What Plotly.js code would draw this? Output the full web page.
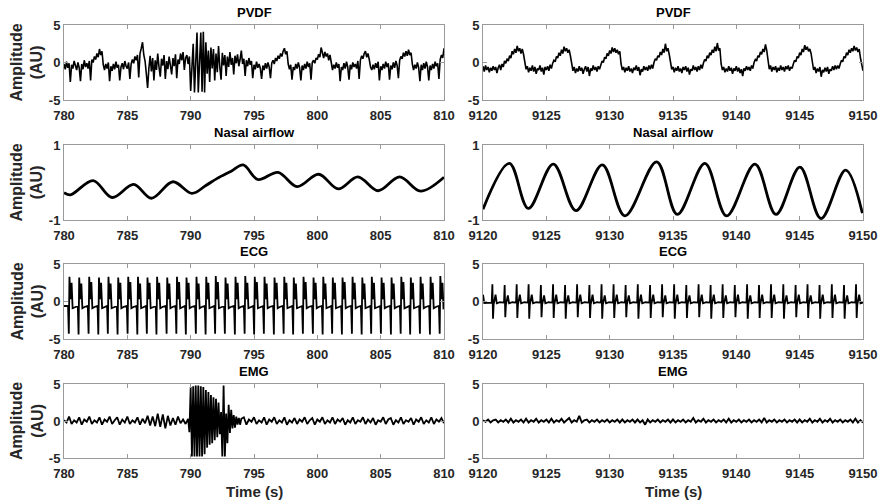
<!DOCTYPE html>
<html>
<head>
<meta charset="utf-8">
<script src="https://cdn.plot.ly/plotly-3.0.1.min.js"></script>
<style>html,body{margin:0;padding:0;background:#fff;}#chart{width:878px;height:501px;}</style>
</head>
<body>
<div id="chart"></div>
<script>
// ---------------- DATA ----------------
const panelTitles = ["PVDF", "Nasal airflow", "ECG", "EMG"];
const leftTicks = [780, 785, 790, 795, 800, 805, 810];
const rightTicks = [9120, 9125, 9130, 9135, 9140, 9145, 9150];

// PVDF (sampled every 0.1 s)
const pvdfLeftStart = 780, pvdfLeftStep = 0.1;
const pvdfLeft = [
 -0.2,-0.9,0.1,-0.7,-0.1,-2.6,-0.3,-0.8,0.2,-0.6,
 -1.0,0.0,-0.7,-2.5,-0.2,-0.9,0.3,-0.6,-0.1,-0.8,
 0.2,-2.4,0.4,0.0,0.8,0.4,1.2,0.7,1.8,1.0,
 1.5,-0.3,-1.0,-0.2,-0.8,0.0,-2.5,-0.5,-1.1,-0.2,
 -0.9,0.1,-0.7,-0.3,-2.4,-0.6,-0.1,-0.9,0.2,-0.5,
 -0.8,0.0,-2.2,-0.2,0.4,-0.1,0.8,0.3,1.0,-2.0,
 1.2,1.9,2.7,1.0,0.2,-1.5,-3.4,-0.8,0.9,-1.2,
 0.6,-2.4,0.3,-1.0,1.2,-0.6,-1.9,0.5,-0.4,1.0,
 -2.2,0.2,-0.9,0.8,-0.3,-1.6,0.6,-0.5,1.1,-2.1,
 0.4,-0.2,1.2,0.3,1.4,-1.0,0.6,1.0,-0.2,0.8,
 -3.8,-1.0,2.5,-4.0,1.0,4.0,-4.0,-0.5,4.0,-3.9,
 4.1,-4.0,2.7,-1.5,1.6,-2.6,2.0,-0.8,1.8,-2.4,
 1.2,-1.3,2.2,-0.6,-2.3,1.3,-0.4,1.0,-1.8,0.8,
 -0.6,1.4,-0.3,0.6,-1.6,0.9,-0.1,1.1,-0.5,0.4,
 1.6,-0.2,0.5,-1.8,0.3,-0.5,0.6,-0.3,0.2,-2.1,
 -0.3,-0.9,0.1,-0.7,-0.2,-0.8,-2.2,-0.4,-1.0,-0.1,
 -0.8,0.0,-0.6,-2.1,-0.1,0.3,-0.2,0.6,0.2,0.9,
 0.5,1.2,0.8,1.5,1.9,1.1,1.5,-0.2,-0.9,-0.3,
 -2.3,-0.6,-1.0,-0.2,-0.8,0.0,-0.7,-2.4,-0.4,-1.0,
 -0.2,-0.8,0.1,-0.6,-0.1,-2.3,0.0,0.3,-0.1,0.6,
 0.4,1.1,0.7,2.0,1.2,0.6,1.4,0.8,1.2,0.3,
 1.0,-0.3,-1.0,-0.3,-0.8,0.0,-0.7,-0.2,-2.5,-0.6,
 -1.0,-0.1,-0.8,0.1,-0.6,-2.3,-0.3,-0.9,0.0,-0.6,
 -0.2,-0.8,0.2,-2.2,0.3,0.9,0.5,1.2,1.5,0.7,
 1.2,0.4,-0.6,-1.0,-0.3,-0.9,-0.1,-0.7,0.1,-2.4,
 -0.5,-1.0,-0.2,-0.8,0.1,-0.6,-0.1,-2.3,-0.4,-0.9,
 0.0,-0.7,0.2,-0.4,-2.1,0.3,0.8,0.5,1.3,0.8,
 1.5,0.9,1.7,1.0,1.3,-0.2,-1.0,-0.3,-0.8,0.0,
 -0.7,-2.5,-0.3,-1.0,-0.1,-0.8,0.1,-0.6,-2.4,-0.4,
 -1.0,-0.2,-0.8,0.1,-0.5,-0.1,-2.2,0.4,1.0,0.6,
 1.9
];
const pvdfRightStart = 9120, pvdfRightStep = 0.1;
const pvdfRight = [
 -0.5,-1.2,-0.4,-1.0,-0.6,-1.3,-0.7,-1.1,-0.5,-1.0,
 -0.6,-1.4,-0.7,-0.3,-1.0,-0.2,-0.6,0.2,-0.1,0.5,
 0.2,0.9,0.6,1.5,1.1,1.8,1.3,2.2,1.5,1.9,
 1.2,1.8,1.1,-0.2,-0.9,-0.5,-1.3,-0.7,-1.1,-0.4,
 -1.2,-0.6,-1.5,-0.8,-1.0,-0.4,-1.2,-0.7,-1.6,-0.6,
 -1.0,-0.5,-1.1,-0.3,-0.8,-0.1,0.3,0.1,0.8,0.6,
 1.3,0.9,1.7,1.2,2.1,1.5,1.9,1.3,1.7,0.9,
 -0.4,-1.1,-0.6,-1.4,-0.8,-1.2,-0.5,-1.1,-0.7,-1.5,
 -0.9,-0.5,-1.2,-0.6,-1.8,-0.8,-1.1,-0.4,-1.0,-0.6,
 -1.2,-0.5,-0.9,-0.2,0.2,0.0,0.7,0.5,1.2,0.9,
 1.6,1.2,2.0,1.4,1.9,1.3,1.7,1.1,1.5,-0.2,
 -1.0,-0.6,-1.3,-0.7,-1.1,-0.5,-1.2,-0.8,-1.4,-0.7,
 -1.0,-0.4,-1.1,-0.6,-1.7,-0.9,-1.2,-0.5,-1.0,-0.6,
 -1.1,-0.4,-0.9,-0.3,-0.8,0.0,0.5,0.3,0.9,0.7,
 1.4,1.0,1.8,1.3,2.5,1.5,1.9,1.1,-0.3,-0.9,
 -0.6,-1.3,-0.7,-1.1,-0.5,-1.2,-0.8,-1.4,-0.6,-1.0,
 -0.5,-1.2,-0.7,-1.6,-0.9,-1.1,-0.4,-1.0,-0.6,-1.2,
 -0.5,-1.0,-0.3,-0.8,-0.1,0.4,0.2,0.9,0.6,1.3,
 1.0,1.7,1.3,2.1,1.5,2.6,1.6,1.9,-0.2,-1.0,
 -0.6,-1.3,-0.8,-1.2,-0.5,-1.1,-0.7,-1.5,-0.8,-1.1,
 -0.5,-1.2,-0.7,-1.4,-0.9,-1.8,-0.8,-1.1,-0.5,-1.0,
 -0.6,-1.1,-0.4,-0.8,0.0,0.4,0.2,0.9,0.7,1.4,
 1.1,1.8,1.4,2.4,1.6,-0.1,-0.9,-0.4,-1.2,-0.6,
 -1.0,-0.5,-1.3,-0.7,-1.1,-0.4,-1.0,-0.6,-1.2,-0.5,
 -0.9,-0.4,-1.1,-0.6,-0.8,-0.2,0.3,0.1,0.8,0.6,
 1.3,1.0,1.8,1.4,2.3,1.7,2.1,1.5,1.8,1.2,
 -0.3,-1.0,-0.6,-1.4,-0.8,-1.2,-0.6,-1.9,-1.0,-1.3,
 -0.7,-1.2,-0.6,-1.5,-0.9,-1.1,-0.5,-1.0,-0.4,-0.9,
 -0.4,-0.8,-0.2,0.3,0.1,0.8,0.6,1.3,1.0,1.7,
 1.3,1.9,1.5,2.2,1.6,2.0,1.4,1.8,0.6,-0.4,
 -1.1
];

// Nasal airflow (turning points)
const nasalLeftT = [780.0,780.5,782.3,783.8,785.5,786.9,788.6,790.1,791.2,792.1,793.2,794.15,795.3,796.9,798.4,800.1,801.65,803.2,804.8,806.5,808.15,810.0];
const nasalLeftV = [-0.27,-0.33,0.05,-0.40,-0.05,-0.42,0.02,-0.29,-0.08,0.11,0.30,0.47,0.08,0.27,-0.11,0.22,-0.17,0.15,-0.22,0.15,-0.23,0.14];
const nasalRightT = [9120.0,9122.08,9123.58,9125.55,9127.34,9129.42,9131.2,9133.71,9135.34,9137.52,9139.23,9141.47,9143.13,9145.02,9146.68,9148.63,9149.95];
const nasalRightV = [-0.71,0.51,-0.69,0.49,-0.75,0.47,-0.89,0.55,-0.85,0.51,-0.89,0.49,-0.85,0.41,-0.96,0.33,-0.82];

// ECG beats: time of each beat and its peak / trough / second-peak amplitudes
const ecgLeftBeatT = [780.38,781.15,781.94,782.71,783.46,784.23,785.02,785.79,786.54,787.30,788.10,788.87,789.62,790.41,791.18,791.93,792.70,793.49,794.26,795.01,795.78,796.57,797.34,798.09,798.86,799.65,800.42,801.17,801.94,802.73,803.50,804.25,805.02,805.81,806.58,807.33,808.10,808.89,809.66];
const ecgLeftR = [3.3,3.2,3.3,3.2,3.3,3.2,3.3,3.3,3.2,3.3,3.2,3.3,3.2,3.3,3.3,3.4,3.2,3.3,3.4,3.3,3.3,3.2,3.3,3.2,3.3,3.2,3.3,3.2,3.2,3.3,3.2,3.3,3.2,3.2,3.3,3.2,3.3,3.3,3.4];
const ecgLeftS = [-4.3,-4.4,-4.3,-4.4,-4.3,-4.4,-4.3,-4.4,-4.3,-4.4,-4.3,-4.3,-4.4,-4.3,-4.4,-4.3,-4.3,-4.4,-4.3,-4.4,-4.3,-4.4,-4.3,-4.4,-4.3,-4.3,-4.4,-4.3,-4.4,-4.3,-4.4,-4.3,-4.3,-4.4,-4.3,-4.4,-4.3,-4.4,-4.3];
const ecgLeftT2 = [2.5,2.4,2.6,2.5,2.4,2.5,2.6,2.4,2.5,2.5,2.4,2.6,2.5,2.4,2.5,2.6,2.4,2.5,2.5,2.6,2.4,2.5,2.5,2.4,2.6,2.5,2.4,2.5,2.6,2.5,2.4,2.5,2.5,2.4,2.6,2.5,2.4,2.5,2.5];
const ecgRightBeatT = [9120.74,9121.71,9122.66,9123.60,9124.57,9125.53,9126.48,9127.43,9128.40,9129.36,9130.31,9131.26,9132.22,9133.19,9134.14,9135.09,9136.05,9137.02,9137.97,9138.92,9139.88,9140.85,9141.79,9142.74,9143.71,9144.68,9145.62,9146.57,9147.54,9148.50,9149.45];
const ecgRightR = [2.3,2.2,2.3,2.3,2.2,2.3,2.2,2.3,2.2,2.3,2.3,2.2,2.3,2.2,2.3,2.3,2.2,2.3,2.2,2.3,2.2,2.3,2.2,2.3,2.3,2.2,2.3,2.2,2.3,2.2,2.3];
const ecgRightS = [-2.3,-2.1,-2.2,-2.3,-2.1,-2.2,-2.3,-2.1,-2.2,-2.3,-2.2,-2.1,-2.3,-2.2,-2.1,-2.3,-2.2,-2.1,-2.3,-2.2,-2.1,-2.3,-2.2,-2.2,-2.3,-2.1,-2.2,-2.3,-2.2,-2.3,-2.2];
const ecgRightT2 = [0.9,0.8,0.9,0.9,0.8,0.9,0.8,0.9,0.9,0.8,0.9,0.8,0.9,0.9,0.8,0.9,0.8,0.9,0.9,0.8,0.9,0.8,0.9,0.9,0.8,0.9,0.8,0.9,0.9,0.8,0.9];

// EMG (left in three sampled segments: calm 0.2 s, burst 0.1 s, calm 0.2 s)
const emgLeftA0 = 780.0, emgLeftAStep = 0.2;
const emgLeftA = [
 0.1,-0.2,0.6,-0.4,0.1,  -0.2,0.5,-0.5,0.2,-0.1,  0.6,-0.4,0.1,-0.2,0.5,  -0.5,0.2,-0.1,0.6,-0.4,
 0.1,0.5,-0.5,0.2,-0.2,  0.6,-0.4,0.1,-0.2,0.5,  -0.5,0.3,-0.3,0.7,-0.6,  0.6,-0.7,1.0,-0.8,0.9,
 -1.0,0.7,-0.6,0.4,-0.5,  0.6,-0.3,0.2,-0.4
];
const emgLeftB0 = 789.8, emgLeftBStep = 0.1;
const emgLeftB = [
 0.3,-1.5,
 4.6,-4.8,4.7,-4.8,4.8,-4.8,4.8,-4.8,4.7,-4.8,
 4.6,-4.5,4.2,-3.6,3.9,-3.2,3.5,-3.0,3.2,-2.6,
 3.0,-2.2,2.5,-1.8,1.2,-4.8,4.8,-4.8,1.0,-3.0,
 2.2,-1.6,1.5,-1.0,0.8,-0.9,0.6,-0.5,0.4,-0.5,
 0.3
];
const emgLeftC0 = 794.2, emgLeftCStep = 0.2;
const emgLeftC = [
 0.5,-0.5,0.2,-0.1,  0.5,-0.4,0.1,-0.2,0.5,  -0.5,0.2,-0.1,0.5,-0.4,  0.1,-0.2,0.5,-0.5,0.1,
 -0.2,0.4,-0.4,0.2,-0.1,  0.5,-0.4,0.1,0.4,-0.5,  0.2,-0.1,0.5,-0.4,0.1,  -0.2,0.5,-0.4,0.2,-0.1,
 0.4,-0.5,0.1,-0.2,0.5,  -0.4,0.1,-0.1,0.5,-0.4,  0.2,-0.2,0.4,-0.5,0.1,  -0.1,0.5,-0.4,0.2,0.4,
 -0.5,0.1,-0.2,0.5,-0.4,  0.1,-0.1,0.4,-0.5,0.2,  -0.1,0.5,-0.4,0.1,-0.2,  0.5,-0.4,0.2,-0.1,0.4,
 -0.3
];
const emgRightStart = 9120, emgRightStep = 0.2;
const emgRight = [
 0.1,-0.1,0.2,-0.2,0.1,  0.2,-0.2,0.1,-0.1,0.2,  -0.2,0.3,-0.2,0.1,-0.1,  0.2,-0.2,0.3,-0.2,0.1,
 -0.1,0.3,-0.2,0.1,-0.1,  0.2,-0.2,0.3,-0.2,0.1,  -0.1,0.3,-0.2,0.1,0.4,  -0.2,0.1,-0.1,0.7,-0.2,
 0.1,0.2,-0.2,0.1,-0.1,  0.2,-0.2,0.1,-0.1,0.2,  -0.2,0.1,-0.1,0.2,-0.2,  0.2,-0.2,0.1,-0.1,0.2,
 -0.2,0.2,-0.2,0.1,-0.5,  0.2,-0.2,0.1,-0.1,0.2,  -0.2,0.1,-0.1,0.2,-0.2,  0.2,-0.2,0.1,-0.1,0.2,
 -0.2,0.1,-0.1,0.4,-0.2,  0.1,-0.1,0.3,-0.2,0.1,  -0.1,0.2,-0.2,0.1,-0.1,  0.2,-0.2,0.3,-0.2,0.1,
 -0.1,0.2,-0.2,0.1,-0.1,  0.2,-0.2,0.1,-0.1,0.2,  -0.2,0.4,-0.2,0.1,-0.1,  0.2,-0.2,0.1,-0.1,0.2,
 -0.2,0.1,-0.1,0.2,-0.2,  0.2,-0.2,0.1,-0.1,0.3,  -0.2,0.1,-0.1,0.3,-0.2,  0.1,-0.1,0.3,-0.2,0.1,
 -0.1,0.2,-0.2,0.1,-0.1,  0.2,-0.2,0.3,-0.2,0.1,  -0.2
];

// ---------------- BUILD ----------------
function timeBase(start, step, ys) { return ys.map((_, i) => +(start + i * step).toFixed(4)); }

function ecgLeftSeries() {
  const x = [780], y = [-0.6];
  ecgLeftBeatT.forEach((t, i) => {
    x.push(t - 0.06, t, t + 0.05, t + 0.14, t + 0.22, t + 0.3, t + 0.5);
    y.push(-0.6, ecgLeftS[i], ecgLeftR[i], 0.3, ecgLeftT2[i], -0.9, -0.7);
  });
  x.push(810); y.push(-0.6);
  return {x, y};
}
function ecgRightSeries() {
  const x = [9120, 9120.1], y = [0.9, -0.2];
  ecgRightBeatT.forEach((t, i) => {
    x.push(t - 0.05, t, t + 0.05, t + 0.1, t + 0.25, t + 0.35, t + 0.6);
    y.push(-0.15, ecgRightR[i], ecgRightS[i], -0.4, ecgRightT2[i], -0.25, -0.1);
  });
  x.push(9150); y.push(0.0);
  return {x, y};
}

const W = 878, H = 501;
const colDom = [[64 / W, 444 / W], [483 / W, 863 / W]];
const rowDom = [[1 - 100 / H, 1 - 25 / H], [1 - 220 / H, 1 - 145 / H], [1 - 339 / H, 1 - 264 / H], [1 - 458 / H, 1 - 384 / H]];

const ecgL = ecgLeftSeries(), ecgR = ecgRightSeries();
const emgLx = timeBase(emgLeftA0, emgLeftAStep, emgLeftA).concat(timeBase(emgLeftB0, emgLeftBStep, emgLeftB), timeBase(emgLeftC0, emgLeftCStep, emgLeftC));
const emgLy = emgLeftA.concat(emgLeftB, emgLeftC);

const series = [
  {x: timeBase(pvdfLeftStart, pvdfLeftStep, pvdfLeft), y: pvdfLeft, w: 1.6, shape: 'linear'},
  {x: timeBase(pvdfRightStart, pvdfRightStep, pvdfRight), y: pvdfRight, w: 1.6, shape: 'linear'},
  {x: nasalLeftT, y: nasalLeftV, w: 2.8, shape: 'spline'},
  {x: nasalRightT, y: nasalRightV, w: 2.8, shape: 'spline'},
  {x: ecgL.x, y: ecgL.y, w: 1.8, shape: 'linear'},
  {x: ecgR.x, y: ecgR.y, w: 1.8, shape: 'linear'},
  {x: emgLx, y: emgLy, w: 1.8, shape: 'linear'},
  {x: timeBase(emgRightStart, emgRightStep, emgRight), y: emgRight, w: 1.9, shape: 'linear'}
];

const font = 'Arial, "Liberation Sans", Helvetica, sans-serif';
const tickFont = {family: font, size: 13, color: '#262626', weight: 'bold'};
const traces = [], layout = {
  width: W, height: H, margin: {l: 0, r: 0, t: 0, b: 0},
  paper_bgcolor: '#fff', plot_bgcolor: '#fff', showlegend: false, annotations: []
};

series.forEach((s, k) => {
  const row = Math.floor(k / 2), col = k % 2;
  const idx = k + 1, sfx = idx === 1 ? '' : String(idx);
  traces.push({
    type: 'scatter', mode: 'lines', x: s.x, y: s.y,
    xaxis: 'x' + sfx, yaxis: 'y' + sfx,
    line: {color: '#000', width: s.w, shape: s.shape, smoothing: 1}, hoverinfo: 'skip'
  });
  const xt = col === 0 ? leftTicks : rightTicks;
  const isNasal = row === 1;
  const yv = isNasal ? [-1, 1] : [-5, 0, 5];
  layout['xaxis' + sfx] = {
    domain: colDom[col], anchor: 'y' + sfx, range: [xt[0], xt[xt.length - 1]],
    tickvals: xt, ticktext: xt.map(String), ticks: 'inside', ticklen: 4, tickcolor: '#9a9a9a',
    showline: true, linecolor: '#9a9a9a', linewidth: 1, mirror: 'ticks', showgrid: false, zeroline: false,
    tickfont: tickFont, ticklabelstandoff: 3, fixedrange: true
  };
  layout['yaxis' + sfx] = {
    domain: rowDom[row], anchor: 'x' + sfx, range: isNasal ? [-1, 1] : [-5, 5],
    tickvals: yv, ticktext: yv.map(String), ticks: 'inside', ticklen: 4, tickcolor: '#9a9a9a',
    showline: true, linecolor: '#9a9a9a', linewidth: 1, mirror: 'ticks', showgrid: false, zeroline: false,
    tickfont: tickFont, fixedrange: true
  };
  layout.annotations.push({
    xref: 'paper', yref: 'paper', x: (colDom[col][0] + colDom[col][1]) / 2, y: rowDom[row][1] + 3 / H,
    xanchor: 'center', yanchor: 'bottom', showarrow: false,
    text: '<b>' + panelTitles[row] + '</b>', font: {family: font, size: 13, color: '#000'}
  });
  if (col === 0) {
    layout.annotations.push({
      xref: 'paper', yref: 'paper', x: 27 / W, y: (rowDom[row][0] + rowDom[row][1]) / 2,
      xanchor: 'center', yanchor: 'middle', showarrow: false, textangle: -90,
      text: '<b>Amplitude<br>(AU)</b>', font: {family: font, size: 16, color: '#262626'}
    });
  }
  if (row === 3) {
    layout.annotations.push({
      xref: 'paper', yref: 'paper', x: (colDom[col][0] + colDom[col][1]) / 2, y: 1 - 491 / H,
      xanchor: 'center', yanchor: 'middle', showarrow: false,
      text: '<b>Time (s)</b>', font: {family: font, size: 15, color: '#262626'}
    });
  }
});

Plotly.newPlot('chart', traces, layout, {staticPlot: true, displayModeBar: false});
</script>
</body>
</html>
